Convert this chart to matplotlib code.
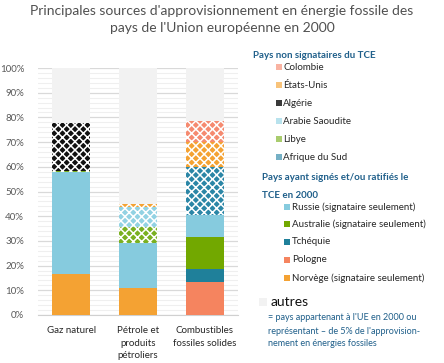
import matplotlib
matplotlib.use("Agg")
import matplotlib.pyplot as plt
from matplotlib.patches import Rectangle
from matplotlib.ticker import MultipleLocator, PercentFormatter
from matplotlib.colors import to_rgb
import numpy as np

plt.rcParams['font.family'] = ['Lato', 'DejaVu Sans']
plt.rcParams['hatch.linewidth'] = 1.1

categories = ["Gaz naturel", "Pétrole et\nproduits\npétroliers", "Combustibles\nfossiles solides"]

# segment shares (%), stacked bottom to top
norvege   = [16.8, 11.1, 0.0]
pologne   = [0.0, 0.0, 13.5]
tchequie  = [0.0, 0.0, 5.1]
australie = [0.0, 0.0, 12.8]
russie    = [40.9, 18.0, 9.1]
afrique   = [0.0, 0.0, 19.4]
libye     = [0.5, 6.7, 0.0]
arabie    = [0.0, 8.1, 0.0]
algerie   = [19.5, 0.0, 0.0]
etats     = [0.0, 1.1, 10.1]
colombie  = [0.0, 0.0, 8.6]
autres    = [22.3, 55.0, 21.4]

C_NOR = '#F4A233'
C_POL = '#F5845F'
C_TCH = '#1F809A'
C_AUS = '#72A800'
C_RUS = '#86CBDE'
C_AFR = '#2B86A6'
C_LIB = '#7AB020'
C_ARA = '#92D2E3'
C_ALG = '#111111'
C_ETA = '#F4A233'
C_COL = '#F58A70'
C_AUT = '#F2F2F2'

series = [
    (norvege, C_NOR, False),
    (pologne, C_POL, False),
    (tchequie, C_TCH, False),
    (australie, C_AUS, False),
    (russie, C_RUS, False),
    (afrique, C_AFR, True),
    (libye, C_LIB, True),
    (arabie, C_ARA, True),
    (algerie, C_ALG, True),
    (etats, C_ETA, True),
    (colombie, C_COL, True),
    (autres, C_AUT, False),
]

W, H = 444, 363
fig = plt.figure(figsize=(W/100, H/100), dpi=100)
ax = fig.add_axes([38/W, 1-315/H, 200/W, (315-68)/H])

x = np.arange(len(categories))
bottom = np.zeros(len(categories))
for vals, col, hatched in series:
    v = np.array(vals)
    if hatched:
        ax.bar(x, v, 0.57, bottom=bottom, color=col, edgecolor='white', hatch='xxxx', linewidth=0, zorder=3)
    else:
        ax.bar(x, v, 0.57, bottom=bottom, color=col, linewidth=0, zorder=3)
    bottom += v

ax.set_xlim(-0.5, 2.5)
ax.set_ylim(0, 100)
ax.yaxis.set_major_locator(MultipleLocator(10))
ax.yaxis.set_minor_locator(MultipleLocator(2))
ax.yaxis.set_major_formatter(PercentFormatter(decimals=0))
ax.grid(axis='y', which='major', color='#D9D9D9', lw=0.9, zorder=0)
ax.grid(axis='y', which='minor', color='#EFEFEF', lw=0.8, zorder=0)
for s in ['top', 'right', 'left']:
    ax.spines[s].set_visible(False)
ax.spines['bottom'].set_color('#D0D0D0')
ax.tick_params(axis='both', which='both', length=0)
ax.tick_params(axis='y', labelsize=7, labelcolor='#595959', pad=10)
ax.set_xticks(x)
ax.set_xticklabels(categories, fontsize=7, color='#262626', linespacing=1.5)
ax.tick_params(axis='x', pad=8)

# overlay in pixel coordinates for title and legend
ov = fig.add_axes([0, 0, 1, 1], zorder=10)
ov.set_xlim(0, W)
ov.set_ylim(H, 0)
ov.axis('off')

ov.text(222, 11, "Principales sources d'approvisionnement en énergie fossile des",
        ha='center', va='center', fontsize=10, color='#505050')
ov.text(222, 28, "pays de l'Union européenne en 2000",
        ha='center', va='center', fontsize=10, color='#505050')

HEAD = '#1F5F8A'
TXT = '#262626'

def pale(col, f=0.35):
    r, g, b = to_rgb(col)
    return (r + (1 - r) * f, g + (1 - g) * f, b + (1 - b) * f)

def marker(xp, yp, col, hatched):
    if hatched:
        fc = '#3A3A3A' if col == C_ALG else pale(col)
    else:
        fc = col
    ov.add_patch(Rectangle((xp - 3, yp - 3), 6, 6, facecolor=fc, linewidth=0))

ov.text(253, 55, "Pays non signataires du TCE", fontsize=7, color=HEAD,
        fontweight='bold', va='center', ha='left')
leg1 = [("Colombie", C_COL, 67), ("États-Unis", C_ETA, 85), ("Algérie", C_ALG, 103),
        ("Arabie Saoudite", C_ARA, 121), ("Libye", C_LIB, 139), ("Afrique du Sud", C_AFR, 157)]
for name, col, yp in leg1:
    marker(279, yp, col, True)
    ov.text(283, yp, name, fontsize=7, color=TXT, va='center', ha='left')

ov.text(262, 178, "Pays ayant signés et/ou ratifiés le", fontsize=7, color=HEAD,
        fontweight='bold', va='center', ha='left')
ov.text(262, 195, "TCE en 2000", fontsize=7, color=HEAD,
        fontweight='bold', va='center', ha='left')
leg2 = [("Russie (signataire seulement)", C_RUS, 207), ("Australie (signataire seulement)", C_AUS, 224),
        ("Tchéquie", C_TCH, 242), ("Pologne", C_POL, 260), ("Norvège (signataire seulement)", C_NOR, 278)]
for name, col, yp in leg2:
    marker(287, yp, col, False)
    ov.text(292, yp, name, fontsize=7, color=TXT, va='center', ha='left')

ov.add_patch(Rectangle((259, 298), 8, 8, facecolor=C_AUT, linewidth=0))
ov.text(271, 302, "autres", fontsize=10, color='#111111', va='center', ha='left')
for txt, yp in [("= pays appartenant à l'UE en 2000 ou", 318),
                ("représentant – de 5% de l'approvision-", 331),
                ("nement en énergies fossiles", 344)]:
    ov.text(268, yp, txt, fontsize=6.5, color=HEAD, va='center', ha='left')

fig.savefig("out.png", dpi=100)
